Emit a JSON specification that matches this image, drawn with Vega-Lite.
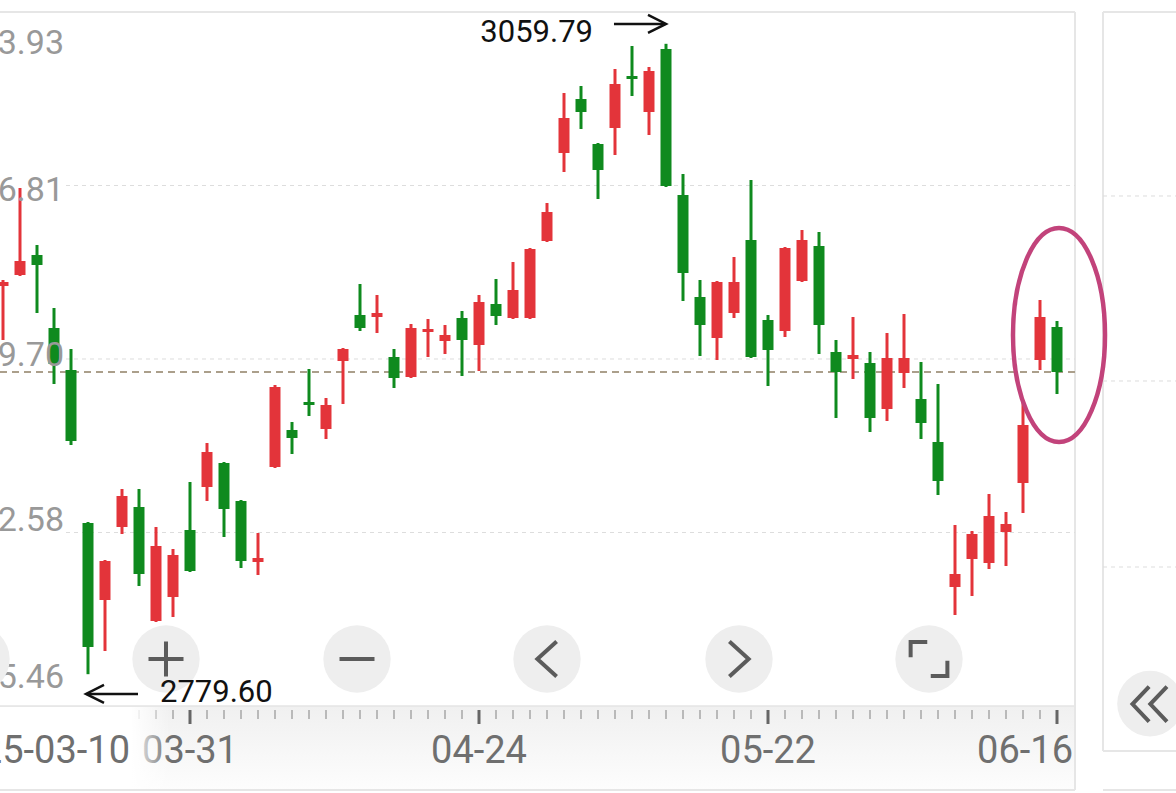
{
 "$schema": "https://vega.github.io/schema/vega-lite/v6.json",
 "width": 1075,
 "height": 694,
 "autosize": {"type": "none"},
 "padding": {"left": 0, "top": 12, "right": 101, "bottom": 87},
 "background": "#ffffff",
 "config": {"view": {"stroke": null}, "scale": {"continuousPadding": 0}},
 "datasets": {
  "candles": [
   {"i": 0, "o": 2952.14, "h": 2954.81, "l": 2928.14, "c": 2953.92},
   {"i": 1, "o": 2957.03, "h": 2995.70, "l": 2956.59, "c": 2963.25},
   {"i": 2, "o": 2965.92, "h": 2970.37, "l": 2940.14, "c": 2961.48},
   {"i": 3, "o": 2933.47, "h": 2942.36, "l": 2908.58, "c": 2917.47},
   {"i": 4, "o": 2914.81, "h": 2924.14, "l": 2881.47, "c": 2883.24},
   {"i": 5, "o": 2846.80, "h": 2847.24, "l": 2779.60, "c": 2791.68},
   {"i": 6, "o": 2812.57, "h": 2830.35, "l": 2789.90, "c": 2829.91},
   {"i": 7, "o": 2845.02, "h": 2861.91, "l": 2841.91, "c": 2858.80},
   {"i": 8, "o": 2853.91, "h": 2861.91, "l": 2818.79, "c": 2824.13},
   {"i": 9, "o": 2803.24, "h": 2845.02, "l": 2802.79, "c": 2836.57},
   {"i": 10, "o": 2813.91, "h": 2835.24, "l": 2805.02, "c": 2832.57},
   {"i": 11, "o": 2843.69, "h": 2865.02, "l": 2825.02, "c": 2825.46},
   {"i": 12, "o": 2862.80, "h": 2882.36, "l": 2856.58, "c": 2878.36},
   {"i": 13, "o": 2873.47, "h": 2873.91, "l": 2840.57, "c": 2853.02},
   {"i": 14, "o": 2856.58, "h": 2857.02, "l": 2826.80, "c": 2829.91},
   {"i": 15, "o": 2829.46, "h": 2842.35, "l": 2823.68, "c": 2831.24},
   {"i": 16, "o": 2871.69, "h": 2908.14, "l": 2871.24, "c": 2907.25},
   {"i": 17, "o": 2888.13, "h": 2891.69, "l": 2877.47, "c": 2884.58},
   {"i": 18, "o": 2900.58, "h": 2915.25, "l": 2894.36, "c": 2899.25},
   {"i": 19, "o": 2888.58, "h": 2902.36, "l": 2884.13, "c": 2899.25},
   {"i": 20, "o": 2918.80, "h": 2924.58, "l": 2899.69, "c": 2924.14},
   {"i": 21, "o": 2939.25, "h": 2953.03, "l": 2932.14, "c": 2933.47},
   {"i": 22, "o": 2938.36, "h": 2948.14, "l": 2931.25, "c": 2940.14},
   {"i": 23, "o": 2920.58, "h": 2924.14, "l": 2906.80, "c": 2911.25},
   {"i": 24, "o": 2911.69, "h": 2935.25, "l": 2911.25, "c": 2933.47},
   {"i": 25, "o": 2931.69, "h": 2937.47, "l": 2920.58, "c": 2933.03},
   {"i": 26, "o": 2927.69, "h": 2934.80, "l": 2921.91, "c": 2930.36},
   {"i": 27, "o": 2937.92, "h": 2941.03, "l": 2912.14, "c": 2928.14},
   {"i": 28, "o": 2925.91, "h": 2948.14, "l": 2914.36, "c": 2945.03},
   {"i": 29, "o": 2944.14, "h": 2955.25, "l": 2934.80, "c": 2938.80},
   {"i": 30, "o": 2937.92, "h": 2962.81, "l": 2937.47, "c": 2950.36},
   {"i": 31, "o": 2937.92, "h": 2969.03, "l": 2937.47, "c": 2968.58},
   {"i": 32, "o": 2972.14, "h": 2989.03, "l": 2971.70, "c": 2985.03},
   {"i": 33, "o": 3011.25, "h": 3037.92, "l": 3002.81, "c": 3026.81},
   {"i": 34, "o": 3035.26, "h": 3041.03, "l": 3021.92, "c": 3029.48},
   {"i": 35, "o": 3015.25, "h": 3015.70, "l": 2990.81, "c": 3003.70},
   {"i": 36, "o": 3022.37, "h": 3048.59, "l": 3010.37, "c": 3041.92},
   {"i": 37, "o": 3045.48, "h": 3058.81, "l": 3036.59, "c": 3044.15},
   {"i": 38, "o": 3029.48, "h": 3049.48, "l": 3019.26, "c": 3047.70},
   {"i": 39, "o": 3057.48, "h": 3059.79, "l": 2996.14, "c": 2996.59},
   {"i": 40, "o": 2992.59, "h": 3001.92, "l": 2945.47, "c": 2957.92},
   {"i": 41, "o": 2947.25, "h": 2954.81, "l": 2921.03, "c": 2934.80},
   {"i": 42, "o": 2929.03, "h": 2954.36, "l": 2919.25, "c": 2953.92},
   {"i": 43, "o": 2940.14, "h": 2965.03, "l": 2937.92, "c": 2953.92},
   {"i": 44, "o": 2972.58, "h": 2999.25, "l": 2920.14, "c": 2920.58},
   {"i": 45, "o": 2937.03, "h": 2939.25, "l": 2907.69, "c": 2923.69},
   {"i": 46, "o": 2932.14, "h": 2969.47, "l": 2929.47, "c": 2969.03},
   {"i": 47, "o": 2954.36, "h": 2977.03, "l": 2953.92, "c": 2972.58},
   {"i": 48, "o": 2969.92, "h": 2976.14, "l": 2921.91, "c": 2934.80},
   {"i": 49, "o": 2922.80, "h": 2928.14, "l": 2893.47, "c": 2913.91},
   {"i": 50, "o": 2919.69, "h": 2938.36, "l": 2910.80, "c": 2921.47},
   {"i": 51, "o": 2917.91, "h": 2922.80, "l": 2887.25, "c": 2893.47},
   {"i": 52, "o": 2897.47, "h": 2931.25, "l": 2892.13, "c": 2920.14},
   {"i": 53, "o": 2913.47, "h": 2939.69, "l": 2906.80, "c": 2920.14},
   {"i": 54, "o": 2901.91, "h": 2918.36, "l": 2884.13, "c": 2891.24},
   {"i": 55, "o": 2882.80, "h": 2908.58, "l": 2859.24, "c": 2865.47},
   {"i": 56, "o": 2818.35, "h": 2845.91, "l": 2805.90, "c": 2824.13},
   {"i": 57, "o": 2830.80, "h": 2843.24, "l": 2814.35, "c": 2841.91},
   {"i": 58, "o": 2829.02, "h": 2859.69, "l": 2826.36, "c": 2849.91},
   {"i": 59, "o": 2842.80, "h": 2851.69, "l": 2827.68, "c": 2846.35},
   {"i": 60, "o": 2864.58, "h": 2901.47, "l": 2851.24, "c": 2890.36},
   {"i": 61, "o": 2919.25, "h": 2945.92, "l": 2914.80, "c": 2938.36},
   {"i": 62, "o": 2933.92, "h": 2936.58, "l": 2904.13, "c": 2913.91}
  ],
  "ygrid": [{"v": 3073.93}, {"v": 2996.81}, {"v": 2919.70}, {"v": 2842.58}, {"v": 2765.46}],
  "rgrid": [{"v": 2992.15}, {"v": 2909.92}, {"v": 2827.24}],
  "xlabels": [{"i": 11, "t": "03-31"}, {"i": 28, "t": "04-24"}, {"i": 45, "t": "05-22"}],
  "buttons": [{"i": -1.588}, {"i": 9.588}, {"i": 20.824}, {"i": 32.0}, {"i": 43.294}, {"i": 54.471}]
 },
 "layer": [
  {
   "data": {"values": [{}]},
   "mark": {"type": "rect", "clip": false, "fill": {"gradient": "linear", "x1": 0, "y1": 0, "x2": 0, "y2": 1, "stops": [{"offset": 0, "color": "#f0f0f0"}, {"offset": 1, "color": "#fdfdfd"}]}},
   "encoding": {
    "x": {"datum": -0.1765, "type": "quantitative", "scale": {"domain": [-0.1765, 63.0588], "nice": false, "zero": false, "padding": 0}, "axis": null},
    "x2": {"datum": 63.0588},
    "y": {"datum": 2765.46, "type": "quantitative", "scale": {"domain": [2765.46, 3073.93], "nice": false, "zero": false, "padding": 0}, "axis": null},
    "y2": {"datum": 2728.12}
   }
  },
  {
   "data": {"name": "candles"},
   "transform": [{"filter": "indexof([11,28,45,62], datum.i) < 0"}],
   "mark": {"type": "rule", "clip": false, "color": "#b9b9b9", "strokeWidth": 2},
   "encoding": {
    "x": {"field": "i", "type": "quantitative", "scale": {"domain": [-0.1765, 63.0588], "nice": false, "zero": false, "padding": 0}, "axis": null},
    "y": {"datum": 2763.68, "type": "quantitative", "scale": {"domain": [2765.46, 3073.93], "nice": false, "zero": false, "padding": 0}, "axis": null},
    "y2": {"datum": 2759.68}
   }
  },
  {
   "data": {"name": "candles"},
   "transform": [{"filter": "indexof([11,28,45,62], datum.i) >= 0"}],
   "mark": {"type": "rule", "clip": false, "color": "#666666", "strokeWidth": 3},
   "encoding": {
    "x": {"field": "i", "type": "quantitative", "scale": {"domain": [-0.1765, 63.0588], "nice": false, "zero": false, "padding": 0}, "axis": null},
    "y": {"datum": 2763.68, "type": "quantitative", "scale": {"domain": [2765.46, 3073.93], "nice": false, "zero": false, "padding": 0}, "axis": null},
    "y2": {"datum": 2757.46}
   }
  },
  {
   "data": {"name": "xlabels"},
   "mark": {"type": "text", "clip": false, "font": "Roboto", "fontSize": 38, "color": "#6f6f6f", "align": "center", "baseline": "middle"},
   "encoding": {
    "x": {"field": "i", "type": "quantitative", "scale": {"domain": [-0.1765, 63.0588], "nice": false, "zero": false, "padding": 0}, "axis": null},
    "y": {"datum": 2745.02, "type": "quantitative", "scale": {"domain": [2765.46, 3073.93], "nice": false, "zero": false, "padding": 0}, "axis": null},
    "text": {"field": "t"}
   }
  },
  {
   "data": {"values": [{}]},
   "mark": {"type": "text", "clip": false, "font": "Roboto", "fontSize": 38, "color": "#6f6f6f", "align": "right", "baseline": "middle", "text": "06-16"},
   "encoding": {
    "x": {"datum": 62.941, "type": "quantitative", "scale": {"domain": [-0.1765, 63.0588], "nice": false, "zero": false, "padding": 0}, "axis": null},
    "y": {"datum": 2745.02, "type": "quantitative", "scale": {"domain": [2765.46, 3073.93], "nice": false, "zero": false, "padding": 0}, "axis": null}
   }
  },
  {
   "data": {"values": [{}]},
   "mark": {"type": "rect", "clip": false, "fill": {"gradient": "linear", "x1": 0, "y1": 0, "x2": 1, "y2": 0, "stops": [{"offset": 0, "color": "#ffffff"}, {"offset": 0.77, "color": "#ffffff"}, {"offset": 1, "color": "rgba(255,255,255,0)"}]}},
   "encoding": {
    "x": {"datum": -0.1765, "type": "quantitative", "scale": {"domain": [-0.1765, 63.0588], "nice": false, "zero": false, "padding": 0}, "axis": null},
    "x2": {"datum": 9.82},
    "y": {"datum": 2765.02, "type": "quantitative", "scale": {"domain": [2765.46, 3073.93], "nice": false, "zero": false, "padding": 0}, "axis": null},
    "y2": {"datum": 2728.57}
   }
  },
  {
   "data": {"values": [{}]},
   "mark": {"type": "text", "clip": false, "font": "Roboto", "fontSize": 38, "color": "#6f6f6f", "align": "right", "baseline": "middle", "text": "2025-03-10"},
   "encoding": {
    "x": {"datum": 7.471, "type": "quantitative", "scale": {"domain": [-0.1765, 63.0588], "nice": false, "zero": false, "padding": 0}, "axis": null},
    "y": {"datum": 2745.02, "type": "quantitative", "scale": {"domain": [2765.46, 3073.93], "nice": false, "zero": false, "padding": 0}, "axis": null}
   }
  },
  {
   "data": {"values": [{}]},
   "mark": {"type": "rule", "clip": false, "color": "#e4e4e4", "strokeWidth": 1.5},
   "encoding": {
    "x": {"datum": -0.1765, "type": "quantitative", "scale": {"domain": [-0.1765, 63.0588], "nice": false, "zero": false, "padding": 0}, "axis": null},
    "x2": {"datum": 63.0588},
    "y": {"datum": 2765.46, "type": "quantitative", "scale": {"domain": [2765.46, 3073.93], "nice": false, "zero": false, "padding": 0}, "axis": null}
   }
  },
  {
   "data": {"values": [{}]},
   "mark": {"type": "rule", "clip": false, "color": "#e6e6e6", "strokeWidth": 2},
   "encoding": {
    "x": {"datum": -0.1765, "type": "quantitative", "scale": {"domain": [-0.1765, 63.0588], "nice": false, "zero": false, "padding": 0}, "axis": null},
    "x2": {"datum": 63.0588},
    "y": {"datum": 3073.93, "type": "quantitative", "scale": {"domain": [2765.46, 3073.93], "nice": false, "zero": false, "padding": 0}, "axis": null}
   }
  },
  {
   "data": {"values": [{}]},
   "mark": {"type": "rule", "clip": false, "color": "#e6e6e6", "strokeWidth": 2},
   "encoding": {
    "x": {"datum": -0.1765, "type": "quantitative", "scale": {"domain": [-0.1765, 63.0588], "nice": false, "zero": false, "padding": 0}, "axis": null},
    "x2": {"datum": 63.0588},
    "y": {"datum": 2728.12, "type": "quantitative", "scale": {"domain": [2765.46, 3073.93], "nice": false, "zero": false, "padding": 0}, "axis": null}
   }
  },
  {
   "data": {"values": [{}]},
   "mark": {"type": "rule", "clip": false, "color": "#e6e6e6", "strokeWidth": 2},
   "encoding": {
    "x": {"datum": 63.0588, "type": "quantitative", "scale": {"domain": [-0.1765, 63.0588], "nice": false, "zero": false, "padding": 0}, "axis": null},
    "y": {"datum": 3073.93, "type": "quantitative", "scale": {"domain": [2765.46, 3073.93], "nice": false, "zero": false, "padding": 0}, "axis": null},
    "y2": {"datum": 2728.12}
   }
  },
  {
   "data": {"values": [{}]},
   "mark": {"type": "rule", "clip": false, "color": "#e6e6e6", "strokeWidth": 2},
   "encoding": {
    "x": {"datum": 64.706, "type": "quantitative", "scale": {"domain": [-0.1765, 63.0588], "nice": false, "zero": false, "padding": 0}, "axis": null},
    "y": {"datum": 3073.93, "type": "quantitative", "scale": {"domain": [2765.46, 3073.93], "nice": false, "zero": false, "padding": 0}, "axis": null},
    "y2": {"datum": 2745.46}
   }
  },
  {
   "data": {"values": [{}]},
   "mark": {"type": "rule", "clip": false, "color": "#e6e6e6", "strokeWidth": 2},
   "encoding": {
    "x": {"datum": 64.706, "type": "quantitative", "scale": {"domain": [-0.1765, 63.0588], "nice": false, "zero": false, "padding": 0}, "axis": null},
    "x2": {"datum": 69.0},
    "y": {"datum": 3073.93, "type": "quantitative", "scale": {"domain": [2765.46, 3073.93], "nice": false, "zero": false, "padding": 0}, "axis": null}
   }
  },
  {
   "data": {"values": [{}]},
   "mark": {"type": "rule", "clip": false, "color": "#e6e6e6", "strokeWidth": 2},
   "encoding": {
    "x": {"datum": 64.706, "type": "quantitative", "scale": {"domain": [-0.1765, 63.0588], "nice": false, "zero": false, "padding": 0}, "axis": null},
    "x2": {"datum": 69.0},
    "y": {"datum": 2745.46, "type": "quantitative", "scale": {"domain": [2765.46, 3073.93], "nice": false, "zero": false, "padding": 0}, "axis": null}
   }
  },
  {
   "data": {"values": [{}]},
   "mark": {"type": "rule", "clip": false, "color": "#e6e6e6", "strokeWidth": 2},
   "encoding": {
    "x": {"datum": 64.706, "type": "quantitative", "scale": {"domain": [-0.1765, 63.0588], "nice": false, "zero": false, "padding": 0}, "axis": null},
    "x2": {"datum": 69.0},
    "y": {"datum": 2728.12, "type": "quantitative", "scale": {"domain": [2765.46, 3073.93], "nice": false, "zero": false, "padding": 0}, "axis": null}
   }
  },
  {
   "data": {"name": "rgrid"},
   "mark": {"type": "rule", "clip": false, "color": "#dddddd", "strokeWidth": 1, "strokeDash": [4, 4]},
   "encoding": {
    "x": {"datum": 64.706, "type": "quantitative", "scale": {"domain": [-0.1765, 63.0588], "nice": false, "zero": false, "padding": 0}, "axis": null},
    "x2": {"datum": 69.0},
    "y": {"field": "v", "type": "quantitative", "scale": {"domain": [2765.46, 3073.93], "nice": false, "zero": false, "padding": 0}, "axis": null}
   }
  },
  {
   "data": {"name": "ygrid"},
   "transform": [{"filter": "datum.v < 3070 && datum.v > 2770"}],
   "mark": {"type": "rule", "clip": false, "color": "#dddddd", "strokeWidth": 1, "strokeDash": [4, 4]},
   "encoding": {
    "x": {"datum": 3.706, "type": "quantitative", "scale": {"domain": [-0.1765, 63.0588], "nice": false, "zero": false, "padding": 0}, "axis": null},
    "x2": {"datum": 63.0588},
    "y": {"field": "v", "type": "quantitative", "scale": {"domain": [2765.46, 3073.93], "nice": false, "zero": false, "padding": 0}, "axis": null}
   }
  },
  {
   "data": {"name": "candles"},
   "transform": [{"filter": "datum.i == 62"}],
   "mark": {"type": "rule", "clip": false, "color": "#ab9f8b", "strokeWidth": 2, "strokeDash": [7, 5]},
   "encoding": {
    "x": {"datum": -0.1765, "type": "quantitative", "scale": {"domain": [-0.1765, 63.0588], "nice": false, "zero": false, "padding": 0}, "axis": null},
    "x2": {"datum": 63.0588},
    "y": {"field": "c", "type": "quantitative", "scale": {"domain": [2765.46, 3073.93], "nice": false, "zero": false, "padding": 0}, "axis": null}
   }
  },
  {
   "data": {"name": "candles"},
   "mark": {"type": "rule", "strokeWidth": 3},
   "encoding": {
    "x": {"field": "i", "type": "quantitative", "scale": {"domain": [-0.1765, 63.0588], "nice": false, "zero": false, "padding": 0}, "axis": null},
    "y": {"field": "l", "type": "quantitative", "scale": {"domain": [2765.46, 3073.93], "nice": false, "zero": false, "padding": 0}, "axis": null},
    "y2": {"field": "h"},
    "color": {"condition": {"test": "datum.c >= datum.o", "value": "#e3343a"}, "value": "#0f8a1e"}
   }
  },
  {
   "data": {"name": "candles"},
   "mark": {"type": "bar", "width": 11},
   "encoding": {
    "x": {"field": "i", "type": "quantitative", "scale": {"domain": [-0.1765, 63.0588], "nice": false, "zero": false, "padding": 0}, "axis": null},
    "y": {"field": "o", "type": "quantitative", "scale": {"domain": [2765.46, 3073.93], "nice": false, "zero": false, "padding": 0}, "axis": null},
    "y2": {"field": "c"},
    "color": {"condition": {"test": "datum.c >= datum.o", "value": "#e3343a"}, "value": "#0f8a1e"}
   }
  },
  {
   "data": {"name": "ygrid"},
   "mark": {"type": "text", "clip": false, "font": "Roboto", "fontSize": 34, "color": "#999999", "align": "right", "baseline": "middle", "dy": {"expr": "datum.v > 3070 ? 32 : datum.v > 2990 ? 5.5 : datum.v > 2900 ? -3 : datum.v > 2800 ? -11.5 : -28"}},
   "encoding": {
    "x": {"datum": 3.588, "type": "quantitative", "scale": {"domain": [-0.1765, 63.0588], "nice": false, "zero": false, "padding": 0}, "axis": null},
    "y": {"field": "v", "type": "quantitative", "scale": {"domain": [2765.46, 3073.93], "nice": false, "zero": false, "padding": 0}, "axis": null},
    "text": {"field": "v", "type": "quantitative", "format": ".2f"}
   }
  },
  {
   "data": {"name": "buttons"},
   "mark": {"type": "point", "clip": false, "filled": true, "shape": "circle", "size": 4536, "color": "#eeeeee", "opacity": 1},
   "encoding": {
    "x": {"field": "i", "type": "quantitative", "scale": {"domain": [-0.1765, 63.0588], "nice": false, "zero": false, "padding": 0}, "axis": null},
    "y": {"datum": 2786.35, "type": "quantitative", "scale": {"domain": [2765.46, 3073.93], "nice": false, "zero": false, "padding": 0}, "axis": null}
   }
  },
  {
   "data": {"values": [{}]},
   "mark": {"type": "point", "clip": false, "filled": true, "shape": "circle", "size": 4300, "color": "#eeeeee", "opacity": 1},
   "encoding": {
    "x": {"datum": 67.47, "type": "quantitative", "scale": {"domain": [-0.1765, 63.0588], "nice": false, "zero": false, "padding": 0}, "axis": null},
    "y": {"datum": 2766.5, "type": "quantitative", "scale": {"domain": [2765.46, 3073.93], "nice": false, "zero": false, "padding": 0}, "axis": null}
   }
  },
  {
   "data": {"values": [{}]},
   "mark": {"type": "point", "clip": false, "filled": false, "shape": "M -1 0 L 1 0 M 0 -1 L 0 1", "size": 1225, "color": "#5b5b5b", "strokeWidth": 4, "opacity": 1},
   "encoding": {
    "x": {"datum": 9.588, "type": "quantitative", "scale": {"domain": [-0.1765, 63.0588], "nice": false, "zero": false, "padding": 0}, "axis": null},
    "y": {"datum": 2786.35, "type": "quantitative", "scale": {"domain": [2765.46, 3073.93], "nice": false, "zero": false, "padding": 0}, "axis": null}
   }
  },
  {
   "data": {"values": [{}]},
   "mark": {"type": "point", "clip": false, "filled": false, "shape": "M -1 0 L 1 0", "size": 1225, "color": "#5b5b5b", "strokeWidth": 4, "opacity": 1},
   "encoding": {
    "x": {"datum": 20.824, "type": "quantitative", "scale": {"domain": [-0.1765, 63.0588], "nice": false, "zero": false, "padding": 0}, "axis": null},
    "y": {"datum": 2786.35, "type": "quantitative", "scale": {"domain": [2765.46, 3073.93], "nice": false, "zero": false, "padding": 0}, "axis": null}
   }
  },
  {
   "data": {"values": [{}]},
   "mark": {"type": "point", "clip": false, "filled": false, "shape": "M 0.55 -1 L -0.55 0 L 0.55 1", "size": 1225, "color": "#5b5b5b", "strokeWidth": 4, "opacity": 1},
   "encoding": {
    "x": {"datum": 32.0, "type": "quantitative", "scale": {"domain": [-0.1765, 63.0588], "nice": false, "zero": false, "padding": 0}, "axis": null},
    "y": {"datum": 2786.35, "type": "quantitative", "scale": {"domain": [2765.46, 3073.93], "nice": false, "zero": false, "padding": 0}, "axis": null}
   }
  },
  {
   "data": {"values": [{}]},
   "mark": {"type": "point", "clip": false, "filled": false, "shape": "M -0.55 -1 L 0.55 0 L -0.55 1", "size": 1225, "color": "#5b5b5b", "strokeWidth": 4, "opacity": 1},
   "encoding": {
    "x": {"datum": 43.294, "type": "quantitative", "scale": {"domain": [-0.1765, 63.0588], "nice": false, "zero": false, "padding": 0}, "axis": null},
    "y": {"datum": 2786.35, "type": "quantitative", "scale": {"domain": [2765.46, 3073.93], "nice": false, "zero": false, "padding": 0}, "axis": null}
   }
  },
  {
   "data": {"values": [{}]},
   "mark": {"type": "point", "clip": false, "filled": false, "shape": "M -1.05 -0.1 L -1.05 -0.97 L -0.1 -0.97 M 1.05 0.1 L 1.05 0.97 L 0.1 0.97", "size": 1225, "color": "#5b5b5b", "strokeWidth": 4, "opacity": 1},
   "encoding": {
    "x": {"datum": 54.471, "type": "quantitative", "scale": {"domain": [-0.1765, 63.0588], "nice": false, "zero": false, "padding": 0}, "axis": null},
    "y": {"datum": 2786.35, "type": "quantitative", "scale": {"domain": [2765.46, 3073.93], "nice": false, "zero": false, "padding": 0}, "axis": null}
   }
  },
  {
   "data": {"values": [{}]},
   "mark": {"type": "point", "clip": false, "filled": false, "shape": "M -0.05 -1 L -1 0 L -0.05 1 M 0.97 -1 L 0.02 0 L 0.97 1", "size": 1225, "color": "#5b5b5b", "strokeWidth": 4, "opacity": 1},
   "encoding": {
    "x": {"datum": 67.47, "type": "quantitative", "scale": {"domain": [-0.1765, 63.0588], "nice": false, "zero": false, "padding": 0}, "axis": null},
    "y": {"datum": 2766.3, "type": "quantitative", "scale": {"domain": [2765.46, 3073.93], "nice": false, "zero": false, "padding": 0}, "axis": null}
   }
  },
  {
   "data": {"values": [{}]},
   "mark": {"type": "point", "clip": false, "filled": false, "shape": "M 0 -1 C 0.2375 -1 0.43 -0.5523 0.43 0 C 0.43 0.5523 0.2375 1 0 1 C -0.2375 1 -0.43 0.5523 -0.43 0 C -0.43 -0.5523 -0.2375 -1 0 -1 Z", "size": 45796, "color": "#c2437b", "strokeWidth": 4.5, "opacity": 1},
   "encoding": {
    "x": {"datum": 62.118, "type": "quantitative", "scale": {"domain": [-0.1765, 63.0588], "nice": false, "zero": false, "padding": 0}, "axis": null},
    "y": {"datum": 2930.36, "type": "quantitative", "scale": {"domain": [2765.46, 3073.93], "nice": false, "zero": false, "padding": 0}, "axis": null}
   }
  },
  {
   "data": {"name": "candles"},
   "transform": [{"aggregate": [{"op": "max", "field": "h", "as": "hi"}]}],
   "mark": {"type": "text", "clip": false, "font": "Roboto", "fontSize": 31, "color": "#111111", "align": "right", "baseline": "middle"},
   "encoding": {
    "x": {"datum": 34.706, "type": "quantitative", "scale": {"domain": [-0.1765, 63.0588], "nice": false, "zero": false, "padding": 0}, "axis": null},
    "y": {"datum": 3064.60, "type": "quantitative", "scale": {"domain": [2765.46, 3073.93], "nice": false, "zero": false, "padding": 0}, "axis": null},
    "text": {"field": "hi", "type": "quantitative", "format": ".2f"}
   }
  },
  {
   "data": {"values": [{}]},
   "mark": {"type": "rule", "clip": false, "color": "#111111", "strokeWidth": 2.5},
   "encoding": {
    "x": {"datum": 35.94, "type": "quantitative", "scale": {"domain": [-0.1765, 63.0588], "nice": false, "zero": false, "padding": 0}, "axis": null},
    "x2": {"datum": 38.95},
    "y": {"datum": 3068.60, "type": "quantitative", "scale": {"domain": [2765.46, 3073.93], "nice": false, "zero": false, "padding": 0}, "axis": null}
   }
  },
  {
   "data": {"values": [{}]},
   "mark": {"type": "point", "clip": false, "filled": false, "shape": "M -1 -0.5 L 0 0 L -1 0.5", "size": 1296, "color": "#111111", "strokeWidth": 2.5, "opacity": 1},
   "encoding": {
    "x": {"datum": 39.0, "type": "quantitative", "scale": {"domain": [-0.1765, 63.0588], "nice": false, "zero": false, "padding": 0}, "axis": null},
    "y": {"datum": 3068.60, "type": "quantitative", "scale": {"domain": [2765.46, 3073.93], "nice": false, "zero": false, "padding": 0}, "axis": null}
   }
  },
  {
   "data": {"name": "candles"},
   "transform": [{"aggregate": [{"op": "min", "field": "l", "as": "lo"}]}],
   "mark": {"type": "text", "clip": false, "font": "Roboto", "fontSize": 31, "color": "#111111", "align": "left", "baseline": "middle"},
   "encoding": {
    "x": {"datum": 9.235, "type": "quantitative", "scale": {"domain": [-0.1765, 63.0588], "nice": false, "zero": false, "padding": 0}, "axis": null},
    "y": {"datum": 2771.24, "type": "quantitative", "scale": {"domain": [2765.46, 3073.93], "nice": false, "zero": false, "padding": 0}, "axis": null},
    "text": {"field": "lo", "type": "quantitative", "format": ".2f"}
   }
  },
  {
   "data": {"values": [{}]},
   "mark": {"type": "rule", "clip": false, "color": "#111111", "strokeWidth": 2.5},
   "encoding": {
    "x": {"datum": 4.93, "type": "quantitative", "scale": {"domain": [-0.1765, 63.0588], "nice": false, "zero": false, "padding": 0}, "axis": null},
    "x2": {"datum": 7.941},
    "y": {"datum": 2770.80, "type": "quantitative", "scale": {"domain": [2765.46, 3073.93], "nice": false, "zero": false, "padding": 0}, "axis": null}
   }
  },
  {
   "data": {"values": [{}]},
   "mark": {"type": "point", "clip": false, "filled": false, "shape": "M 1 -0.5 L 0 0 L 1 0.5", "size": 1296, "color": "#111111", "strokeWidth": 2.5, "opacity": 1},
   "encoding": {
    "x": {"datum": 4.882, "type": "quantitative", "scale": {"domain": [-0.1765, 63.0588], "nice": false, "zero": false, "padding": 0}, "axis": null},
    "y": {"datum": 2770.80, "type": "quantitative", "scale": {"domain": [2765.46, 3073.93], "nice": false, "zero": false, "padding": 0}, "axis": null}
   }
  }
 ]
}
